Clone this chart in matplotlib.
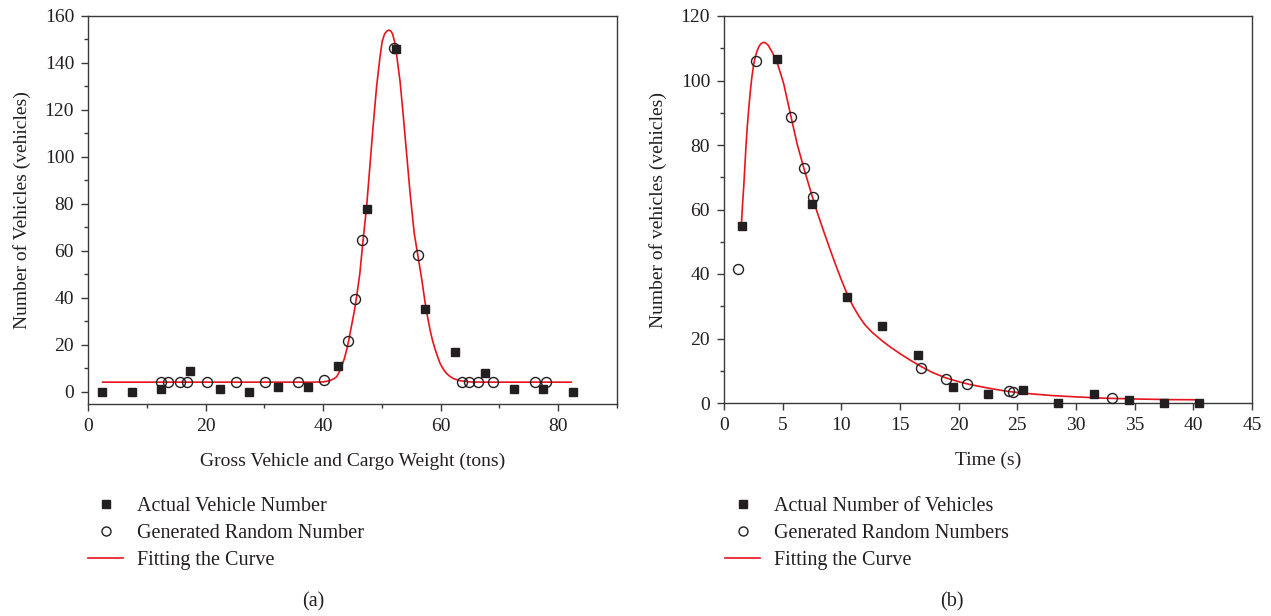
import matplotlib
matplotlib.use("Agg")
import matplotlib.pyplot as plt
from matplotlib.lines import Line2D
from matplotlib.ticker import MultipleLocator

# ---------------- data ----------------
# (a) weight distribution
a_actual_x = [2.4, 7.5, 12.4, 17.4, 22.5, 27.4, 32.4, 37.5, 42.5, 47.4, 52.4, 57.4, 62.4, 67.5, 72.4, 77.4, 82.5]
a_actual_y = [0, 0, 1.3, 8.8, 1.3, 0, 2.1, 2.1, 11, 78, 146, 35.3, 17, 8.1, 1.3, 1.3, 0]
a_gen_x = [12.5, 13.6, 15.7, 16.9, 20.2, 25.2, 30.1, 35.8, 40.1, 44.3, 45.5, 46.7, 52.1, 56.2,
           63.7, 64.8, 66.4, 68.9, 76.0, 78.0]
a_gen_y = [4.1, 4.1, 4.1, 4.1, 4.1, 4.1, 4.1, 4.1, 5.0, 21.8, 39.7, 64.5, 146.5, 58.4,
           4.1, 4.1, 4.1, 4.1, 4.1, 4.1]
a_fit_x = [2.5, 38.0, 40.0, 41.1, 41.8, 42.3, 42.7, 43.1, 43.6, 44.0, 44.4, 44.8, 45.3, 45.7, 46.25,
           46.8, 47.4, 47.95, 48.5, 49.1, 49.7, 50.06, 50.45, 50.85, 51.2, 51.53, 51.82, 52.16,
           52.44, 52.73, 53.1, 53.6, 54.2, 54.8, 55.5, 56.2, 56.8, 57.3, 57.8, 58.2, 58.6, 59.0,
           59.5, 59.9, 60.4, 61.0, 61.6, 62.2, 63.3, 65.0, 68.0, 82.2]
a_fit_y = [4.1, 4.1, 4.2, 4.7, 5.5, 6.4, 8.2, 10.6, 14.0, 17.8, 22.4, 27.7, 34.2, 40.5, 50.4,
           64.6, 78.8, 95.8, 112.9, 129.9, 143.0, 149.3, 152.3, 153.6, 154.0, 153.6, 152.3, 149.1,
           144.8, 139.1, 132.0, 118.6, 101.5, 84.5, 67.5, 56.8, 47.6, 38.8, 31.5, 26.3, 22.0, 18.5,
           14.8, 12.1, 9.8, 7.8, 6.5, 5.6, 4.7, 4.2, 4.1, 4.1]

# (b) time distribution
b_actual_x = [1.5, 4.5, 7.5, 10.5, 13.5, 16.5, 19.5, 22.5, 25.5, 28.5, 31.5, 34.5, 37.5, 40.5]
b_actual_y = [54.9, 106.6, 61.7, 32.9, 23.9, 14.9, 5.0, 2.8, 4.0, 0, 2.9, 1.0, 0, 0]
b_gen_x = [1.22, 2.73, 5.7, 6.84, 7.55, 16.8, 18.9, 20.7, 24.3, 24.6, 33.1]
b_gen_y = [41.6, 106.0, 88.7, 72.9, 63.8, 10.7, 7.5, 5.9, 3.6, 3.5, 1.55]
b_fit_x = [1.48, 1.58, 1.68, 1.78, 1.87, 1.98, 2.1, 2.24, 2.38, 2.52, 2.67, 2.83, 3.0, 3.18,
           3.35, 3.52, 3.75, 4.09, 4.51, 5.08, 5.71, 6.22, 6.79, 7.44, 8.0, 8.5, 9.0, 9.5, 10.0,
           10.45, 11.0, 11.5, 12.0, 12.6, 13.5, 14.2, 15.0, 16.0, 16.8, 17.8, 18.9, 20.0, 21.0,
           22.4, 23.5, 24.4, 26.0, 28.0, 30.0, 32.3, 35.1, 38.0, 40.3]
b_fit_y = [55.2, 61.5, 67.0, 73.5, 79.5, 85.5, 90.9, 96.5, 101.2, 104.8, 107.4, 109.3, 110.7, 111.5,
           111.8, 111.7, 111.0, 108.9, 105.8, 99.1, 88.8, 80.5, 73.0, 65.0, 58.5, 53.2, 48.0, 43.0, 38.2,
           34.2, 30.0, 26.9, 24.3, 22.0, 19.2, 17.3, 15.3, 13.0, 11.3, 9.4, 7.8, 6.6, 5.7,
           4.7, 4.0, 3.5, 2.9, 2.3, 1.9, 1.5, 1.24, 1.05, 1.0]

a_labels = ["Actual Vehicle Number", "Generated Random Number", "Fitting the Curve"]
b_labels = ["Actual Number of Vehicles", "Generated Random Numbers", "Fitting the Curve"]

# ---------------- style ----------------
plt.rcParams['font.family'] = ['Liberation Serif', 'DejaVu Serif']
FS = 14
LFS = 14.5
DARK = "#231f20"
RED = "#e8141c"
SPINE = "#3a3a3a"

W, H = 1271, 616
fig = plt.figure(figsize=(W / 100, H / 100), dpi=100)

def fr(l, r, t, b):
    return [l / W, 1 - b / H, (r - l) / W, (b - t) / H]

axA = fig.add_axes(fr(88, 617, 16, 404))
axB = fig.add_axes(fr(724, 1252, 16, 403))

def style(ax):
    for s in ax.spines.values():
        s.set_color(SPINE)
        s.set_linewidth(1.0)
    ax.tick_params(which='both', direction='out', color=SPINE, top=False, right=False,
                   labelsize=FS, labelcolor=DARK)
    ax.tick_params(which='major', length=5, width=1.0, pad=5)
    ax.tick_params(which='minor', length=3, width=1.0)

# (a)
axA.plot(a_fit_x, a_fit_y, color=RED, lw=1.2, zorder=2)
axA.plot(a_actual_x, a_actual_y, 's', color=DARK, ms=6, zorder=3)
axA.plot(a_gen_x, a_gen_y, 'o', mfc='none', mec=DARK, mew=1.0, ms=7.2, zorder=4)
axA.set_xlim(0, 90)
axA.set_ylim(-5.2, 160)
axA.xaxis.set_major_locator(MultipleLocator(20))
axA.xaxis.set_minor_locator(MultipleLocator(10))
axA.yaxis.set_major_locator(MultipleLocator(20))
axA.yaxis.set_minor_locator(MultipleLocator(10))
axA.set_xticks([0, 20, 40, 60, 80])
axA.set_yticks([0, 20, 40, 60, 80, 100, 120, 140, 160])
axA.set_xlabel("Gross Vehicle and Cargo Weight (tons)", fontsize=FS, color=DARK, labelpad=13)
axA.set_ylabel("Number of Vehicles (vehicles)", fontsize=FS, color=DARK, labelpad=10)
style(axA)

# (b)
axB.plot(b_fit_x, b_fit_y, color=RED, lw=1.2, zorder=2)
axB.plot(b_actual_x, b_actual_y, 's', color=DARK, ms=6, zorder=3, clip_on=False)
axB.plot(b_gen_x, b_gen_y, 'o', mfc='none', mec=DARK, mew=1.0, ms=7.2, zorder=4, clip_on=False)
axB.set_xlim(0, 45)
axB.set_ylim(0, 120)
axB.xaxis.set_major_locator(MultipleLocator(5))
axB.yaxis.set_major_locator(MultipleLocator(20))
axB.yaxis.set_minor_locator(MultipleLocator(10))
axB.set_xlabel("Time (s)", fontsize=FS, color=DARK, labelpad=13)
axB.set_ylabel("Number of vehicles (vehicles)", fontsize=FS, color=DARK, labelpad=10)
style(axB)

def handles():
    return [Line2D([], [], ls='none', marker='s', color=DARK, ms=5.5),
            Line2D([], [], ls='none', marker='o', mfc='none', mec=DARK, mew=1.0, ms=6.5),
            Line2D([], [], color=RED, lw=1.2)]

for ax, labels, x0 in ((axA, a_labels, 88), (axB, b_labels, 725)):
    leg = ax.legend(handles(), labels, loc='upper left',
                    bbox_to_anchor=(x0 / W, 1 - 497 / H), bbox_transform=fig.transFigure,
                    frameon=False, fontsize=LFS, handlelength=1.74, handletextpad=0.7,
                    labelspacing=0.4, borderpad=0, borderaxespad=0)
    for t in leg.get_texts():
        t.set_color(DARK)

fig.text(313 / W, 1 - 602 / H, "(a)", ha='center', va='center', fontsize=LFS, color=DARK)
fig.text(952 / W, 1 - 602 / H, "(b)", ha='center', va='center', fontsize=LFS, color=DARK)

fig.savefig("out.png", dpi=100)
